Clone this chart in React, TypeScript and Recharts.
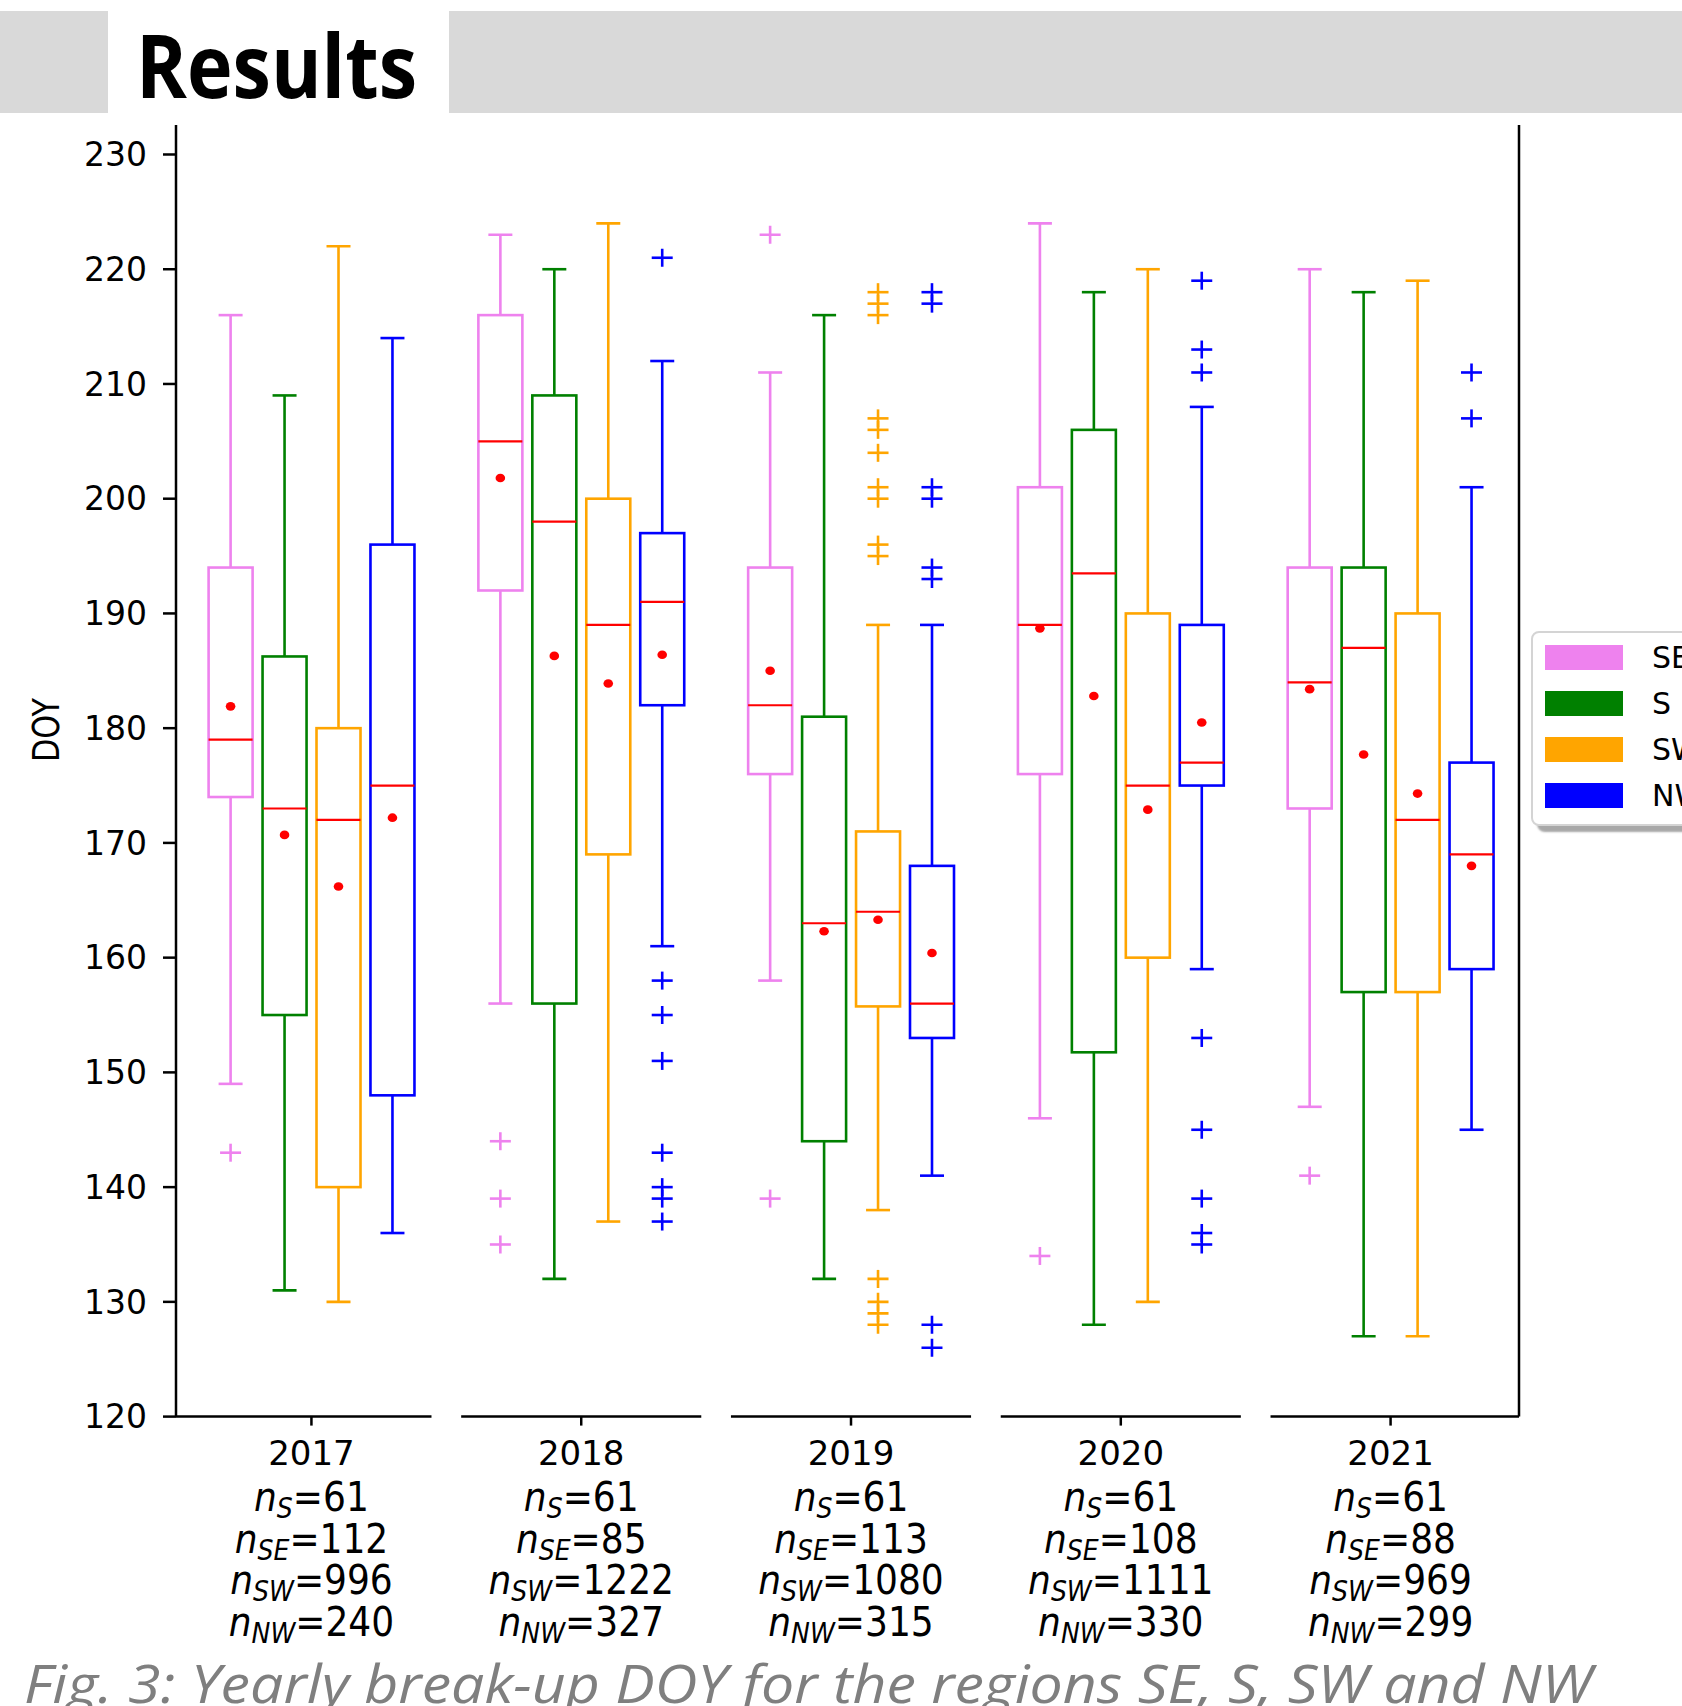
import React from 'react';
import {
  ComposedChart,
  Bar,
  Scatter,
  XAxis,
  YAxis,
  ReferenceLine,
  Legend,
} from 'recharts';

// Yearly break-up day of year (DOY) statistics per region
const YEARS = ['2017', '2018', '2019', '2020', '2021'];
const REGIONS = ['SE', 'S', 'SW', 'NW'];
const REGION_COLORS = ['#ee82ee', '#008000', '#ffa500', '#0000ff'];

const SE_WHISKER_LOW = [149, 156, 158, 146, 147];
const SE_Q1 = [174, 192, 176, 176, 173];
const SE_MEDIAN = [179, 205, 182, 189, 184];
const SE_Q3 = [194, 216, 194, 201, 194];
const SE_WHISKER_HIGH = [216, 223, 211, 224, 220];
const SE_MEAN = [181.9, 201.8, 185.0, 188.7, 183.4];
const SE_FLIERS = [[143], [144, 139, 135], [223, 139], [134], [141]];

const S_WHISKER_LOW = [131, 132, 132, 128, 127];
const S_Q1 = [155, 156, 144, 151.75, 157];
const S_MEDIAN = [173, 198, 163, 193.5, 187];
const S_Q3 = [186.25, 209, 181, 206, 194];
const S_WHISKER_HIGH = [209, 220, 216, 218, 218];
const S_MEAN = [170.7, 186.3, 162.3, 182.8, 177.7];
const S_FLIERS: number[][] = [[], [], [], [], []];

const SW_WHISKER_LOW = [130, 137, 138, 130, 127];
const SW_Q1 = [140, 169, 155.75, 160, 157];
const SW_MEDIAN = [172, 189, 164, 175, 172];
const SW_Q3 = [180, 200, 171, 190, 190];
const SW_WHISKER_HIGH = [222, 224, 189, 220, 219];
const SW_MEAN = [166.2, 183.9, 163.3, 172.9, 174.3];
const SW_FLIERS = [
  [],
  [],
  [218, 217, 216, 207, 206, 204, 201, 200, 196, 195, 132, 130, 129, 128],
  [],
  [],
];

const NW_WHISKER_LOW = [136, 161, 141, 159, 145];
const NW_Q1 = [148, 182, 153, 175, 159];
const NW_MEDIAN = [175, 191, 156, 177, 169];
const NW_Q3 = [196, 197, 168, 189, 177];
const NW_WHISKER_HIGH = [214, 212, 189, 208, 201];
const NW_MEAN = [172.2, 186.4, 160.4, 180.5, 168.0];
const NW_FLIERS = [
  [],
  [221, 158, 155, 151, 143, 140, 139, 137],
  [218, 217, 201, 200, 194, 193, 128, 126],
  [219, 213, 211, 153, 145, 139, 136, 135],
  [211, 207],
];

// Sample sizes per year
const N_S = [61, 61, 61, 61, 61];
const N_SE = [112, 85, 113, 108, 88];
const N_SW = [996, 1222, 1080, 1111, 969];
const N_NW = [240, 327, 315, 330, 299];

const Y_TICKS = [120, 130, 140, 150, 160, 170, 180, 190, 200, 210, 220, 230];

const CAPTION = 'Fig. 3: Yearly break-up DOY for the regions SE, S, SW and NW';

// ---- layout ----
const CHART_W = 1682;
const CHART_H = 1706;
const PLOT_LEFT = 176;
const PLOT_RIGHT = 1519;
const PLOT_TOP = 125;
const PLOT_BOTTOM = 1416.6;
const XAXIS_H = 280;
const X_MIN = -0.502;
const X_MAX = 4.476;
const Y_MIN = 120;
const Y_MAX = 232.57;
const SLOT_PAD_LEFT = 27.6;
const SLOT_PAD_RIGHT = 20.5;
const SPINE_HALF = 0.445;
const BOX_W = 44;
const CAP_W = 24;
const LINE_W = 2.6;
const AXIS_W = 2.5;

const REGION_STATS = [
  { low: SE_WHISKER_LOW, q1: SE_Q1, median: SE_MEDIAN, q3: SE_Q3, high: SE_WHISKER_HIGH, mean: SE_MEAN, fliers: SE_FLIERS },
  { low: S_WHISKER_LOW, q1: S_Q1, median: S_MEDIAN, q3: S_Q3, high: S_WHISKER_HIGH, mean: S_MEAN, fliers: S_FLIERS },
  { low: SW_WHISKER_LOW, q1: SW_Q1, median: SW_MEDIAN, q3: SW_Q3, high: SW_WHISKER_HIGH, mean: SW_MEAN, fliers: SW_FLIERS },
  { low: NW_WHISKER_LOW, q1: NW_Q1, median: NW_MEDIAN, q3: NW_Q3, high: NW_WHISKER_HIGH, mean: NW_MEAN, fliers: NW_FLIERS },
];

type Row = {
  slot: string;
  yearPos: number;
  color: string | null;
  whisker: [number, number] | null;
  box: [number, number] | null;
  median: number | null;
  mean: number | null;
};

// one slot per box, with an empty slot between consecutive years
const ROWS: Row[] = [];
const FLIER_POINTS: { slot: string; value: number; color: string }[] = [];
YEARS.forEach((year, i) => {
  REGION_STATS.forEach((s, j) => {
    const slot = `${year}-${REGIONS[j]}`;
    ROWS.push({
      slot,
      yearPos: i,
      color: REGION_COLORS[j],
      whisker: [s.low[i], s.high[i]],
      box: [s.q1[i], s.q3[i]],
      median: s.median[i],
      mean: s.mean[i],
    });
    s.fliers[i].forEach((v) => FLIER_POINTS.push({ slot, value: v, color: REGION_COLORS[j] }));
  });
  if (i < YEARS.length - 1) {
    ROWS.push({ slot: `${year}-gap`, yearPos: i, color: null, whisker: null, box: null, median: null, mean: null });
  }
});

const ok = (v: any) => typeof v === 'number' && isFinite(v);

const WhiskerShape = (props: any) => {
  const { x, y, width, height, payload } = props;
  if (!payload || !payload.whisker || !ok(x) || !ok(y) || !ok(height)) return null;
  const top = Math.min(y, y + height);
  const bottom = Math.max(y, y + height);
  const cx = x + width / 2;
  const c = payload.color;
  return (
    <g>
      <line x1={cx} x2={cx} y1={top} y2={bottom} stroke={c} strokeWidth={LINE_W} />
      <line x1={cx - CAP_W / 2} x2={cx + CAP_W / 2} y1={top} y2={top} stroke={c} strokeWidth={LINE_W} />
      <line x1={cx - CAP_W / 2} x2={cx + CAP_W / 2} y1={bottom} y2={bottom} stroke={c} strokeWidth={LINE_W} />
    </g>
  );
};

const BoxShape = (props: any) => {
  const { x, y, width, height, payload } = props;
  if (!payload || !payload.box || !ok(x) || !ok(y) || !ok(height)) return null;
  const top = Math.min(y, y + height);
  const h = Math.abs(height);
  return <rect x={x} y={top} width={width} height={h} fill="#ffffff" stroke={payload.color} strokeWidth={LINE_W} />;
};

const MedianShape = (props: any) => {
  const { cx, cy, payload } = props;
  if (!payload || payload.median == null || !ok(cx) || !ok(cy)) return null;
  return <line x1={cx - BOX_W / 2} x2={cx + BOX_W / 2} y1={cy} y2={cy} stroke="#ff0000" strokeWidth={2.2} />;
};

const MeanShape = (props: any) => {
  const { cx, cy, payload } = props;
  if (!payload || payload.mean == null || !ok(cx) || !ok(cy)) return null;
  return <ellipse cx={cx} cy={cy} rx={4.8} ry={4.3} fill="#ff0000" />;
};

const FlierShape = (props: any) => {
  const { cx, cy, payload } = props;
  if (!payload || !ok(cx) || !ok(cy)) return null;
  const c = payload.color;
  return (
    <g>
      <line x1={cx - 10.5} x2={cx + 10.5} y1={cy} y2={cy} stroke={c} strokeWidth={LINE_W} />
      <line x1={cx} x2={cx} y1={cy - 9} y2={cy + 9} stroke={c} strokeWidth={LINE_W} />
    </g>
  );
};

const YearTick = (props: any) => {
  const { x, y, payload } = props;
  const i = Number(payload?.value);
  if (!(i >= 0 && i < YEARS.length)) return null;
  const counts: [string, number][] = [
    ['S', N_S[i]],
    ['SE', N_SE[i]],
    ['SW', N_SW[i]],
    ['NW', N_NW[i]],
  ];
  return (
    <g>
      <text x={x} y={y + 39} textAnchor="middle" fontFamily="'DejaVu Sans', sans-serif" fontSize={34} fill="#000">
        {YEARS[i]}
      </text>
      {counts.map(([sub, n], k) => (
        <text
          key={sub}
          x={x}
          y={y + 85.4 + k * 41.7}
          textAnchor="middle"
          fontFamily="'DejaVu Sans Condensed', 'DejaVu Sans', sans-serif"
          fontSize={40}
          fill="#000"
        >
          <tspan fontStyle="italic">n</tspan>
          <tspan fontStyle="italic" fontSize={28} dy={7}>
            {sub}
          </tspan>
          <tspan dy={-7}>={n}</tspan>
        </text>
      ))}
    </g>
  );
};

const LegendBox = () => (
  <div
    style={{
      position: 'relative',
      width: 190,
      height: 195,
      boxSizing: 'border-box',
      background: '#ffffff',
      border: '2px solid #d4d4d4',
      borderRadius: 8,
      boxShadow: '6px 6px 2px rgba(110,110,110,0.6)',
    }}
  >
    {REGIONS.map((r, j) => (
      <div
        key={r}
        style={{ position: 'absolute', left: 12, top: 11.5 + j * 46.1, height: 25, display: 'flex', alignItems: 'center' }}
      >
        <div style={{ width: 78, height: 25, background: REGION_COLORS[j] }} />
        <span
          style={{
            marginLeft: 29,
            fontFamily: "'DejaVu Sans', sans-serif",
            fontSize: 30,
            lineHeight: '25px',
            color: '#000',
            whiteSpace: 'nowrap',
          }}
        >
          {r}
        </span>
      </div>
    ))}
  </div>
);

export default function App() {
  const yearTicks = YEARS.map((_, i) => i);
  return (
    <div
      style={{
        position: 'absolute',
        left: 0,
        top: 0,
        width: CHART_W,
        height: CHART_H,
        overflow: 'hidden',
        background: '#ffffff',
      }}
    >
      <svg width={CHART_W} height={CHART_H} style={{ position: 'absolute', left: 0, top: 0 }}>
        <rect x={0} y={11} width={108} height={102} fill="#d9d9d9" />
        <rect x={449} y={11} width={CHART_W - 449} height={102} fill="#d9d9d9" />
        <text
          x={136}
          y={98}
          fontFamily="'Open Sans', sans-serif"
          fontWeight={700}
          fontSize={88}
          fill="#000"
          textLength={281}
          lengthAdjust="spacingAndGlyphs"
        >
          Results
        </text>
        <text
          x={46}
          y={730}
          transform="rotate(-90 46 730)"
          textAnchor="middle"
          dominantBaseline="central"
          fontFamily="'DejaVu Sans', sans-serif"
          fontSize={38}
          fill="#000"
          textLength={64}
          lengthAdjust="spacingAndGlyphs"
        >
          DOY
        </text>
        <text
          x={24}
          y={1703}
          fontFamily="'Open Sans', sans-serif"
          fontStyle="italic"
          fontWeight={400}
          fontSize={53}
          fill="#7f7f7f"
          textLength={1568}
          lengthAdjust="spacingAndGlyphs"
        >
          {CAPTION}
        </text>
      </svg>
      <div style={{ position: 'absolute', left: 0, top: 0 }}>
        <ComposedChart
          width={CHART_W}
          height={CHART_H}
          data={ROWS}
          margin={{
            top: PLOT_TOP,
            right: CHART_W - PLOT_RIGHT,
            bottom: CHART_H - PLOT_BOTTOM - XAXIS_H,
            left: 0,
          }}
        >
          <XAxis
            xAxisId="year"
            dataKey="yearPos"
            type="number"
            domain={[X_MIN, X_MAX]}
            allowDataOverflow
            ticks={yearTicks}
            interval={0}
            height={XAXIS_H}
            axisLine={false}
            tickLine={{ stroke: '#000', strokeWidth: AXIS_W }}
            tickSize={9}
            tickMargin={0}
            tick={<YearTick />}
          />
          <XAxis
            xAxisId="whisker"
            dataKey="slot"
            type="category"
            hide
            height={0}
            allowDuplicatedCategory={false}
            padding={{ left: SLOT_PAD_LEFT, right: SLOT_PAD_RIGHT }}
          />
          <XAxis
            xAxisId="box"
            dataKey="slot"
            type="category"
            hide
            height={0}
            allowDuplicatedCategory={false}
            padding={{ left: SLOT_PAD_LEFT, right: SLOT_PAD_RIGHT }}
          />
          <XAxis
            xAxisId="pts"
            dataKey="slot"
            type="category"
            hide
            height={0}
            allowDuplicatedCategory={false}
            padding={{ left: SLOT_PAD_LEFT, right: SLOT_PAD_RIGHT }}
          />
          <YAxis
            type="number"
            domain={[Y_MIN, Y_MAX]}
            allowDataOverflow
            ticks={Y_TICKS}
            interval={0}
            width={PLOT_LEFT}
            axisLine={{ stroke: '#000', strokeWidth: AXIS_W }}
            tickLine={{ stroke: '#000', strokeWidth: AXIS_W }}
            tickSize={13}
            tickMargin={16}
            tick={{ fontFamily: "'DejaVu Sans', sans-serif", fontSize: 33, fill: '#000' }}
          />
          <Bar
            xAxisId="whisker"
            dataKey="whisker"
            barSize={BOX_W}
            shape={<WhiskerShape />}
            isAnimationActive={false}
          />
          <Bar xAxisId="box" dataKey="box" barSize={BOX_W} shape={<BoxShape />} isAnimationActive={false} />
          <Scatter
            xAxisId="pts"
            data={ROWS}
            dataKey="median"
            shape={<MedianShape />}
            isAnimationActive={false}
          />
          <Scatter xAxisId="pts" data={ROWS} dataKey="mean" shape={<MeanShape />} isAnimationActive={false} />
          <Scatter
            xAxisId="pts"
            data={FLIER_POINTS}
            dataKey="value"
            shape={<FlierShape />}
            isAnimationActive={false}
          />
          {YEARS.map((year, i) => (
            <ReferenceLine
              key={year}
              xAxisId="year"
              ifOverflow="visible"
              stroke="#000"
              strokeWidth={AXIS_W}
              segment={[
                { x: i === 0 ? X_MIN : i - SPINE_HALF, y: Y_MIN },
                { x: i === YEARS.length - 1 ? X_MAX : i + SPINE_HALF, y: Y_MIN },
              ]}
            />
          ))}
          <ReferenceLine xAxisId="year" x={X_MAX} ifOverflow="visible" stroke="#000" strokeWidth={AXIS_W} />
          <Legend
            layout="horizontal"
            verticalAlign="middle"
            align="center"
            content={() => <LegendBox />}
            wrapperStyle={{ left: 1531, top: 631, width: 190, height: 195, margin: 0, padding: 0 }}
          />
        </ComposedChart>
      </div>
    </div>
  );
}
